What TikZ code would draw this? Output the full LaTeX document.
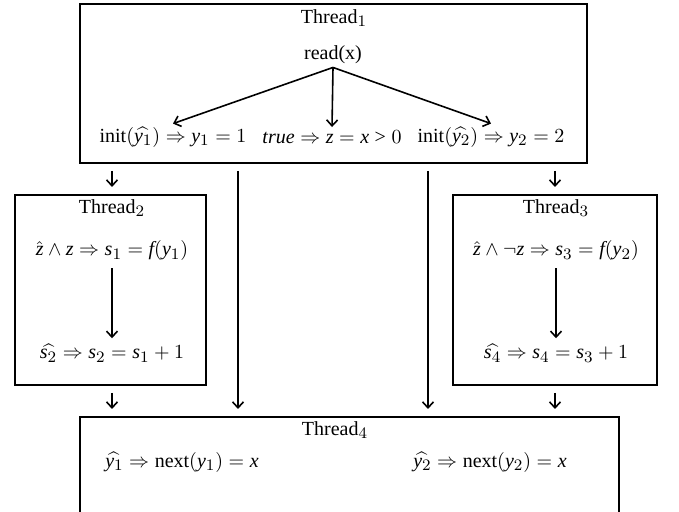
\documentclass[tikz,border=0pt]{standalone}
\usepackage{fontspec}
\setmainfont{Liberation Serif}
\usepackage[italic]{mathastext}
\usetikzlibrary{arrows.meta}
\tikzset{
  box/.style={draw, line width=1pt, inner sep=0pt},
  lbl/.style={inner sep=1.5pt},
  arr/.style={line width=0.8pt, -{Straight Barb[length=3pt,width=5.5pt,line width=0.8pt]}},
}
\begin{document}
\begin{tikzpicture}[x=0.5pt,y=-0.5pt,font=\fontsize{10}{12}\selectfont]
\useasboundingbox (0,0) rectangle (679,512);
\clip (0,0) rectangle (679,512);
% boxes
\node[box, minimum width=253.5pt, minimum height=79.5pt] (t1) at (333.5,83.5) {};
\node[box, minimum width=95.5pt, minimum height=95pt] (t2) at (110.5,290) {};
\node[box, minimum width=102pt, minimum height=95pt] (t3) at (555,290) {};
\node[box, minimum width=269.5pt, minimum height=75pt] (t4) at (349.5,492) {};
% Thread 1
\node[lbl] (h1) at (334,18) {Thread$_1$};
\node[lbl] (rd) at (333,55) {read(x)};
\node[lbl] (i1) at (173,137) {$\mathrm{init}(\widehat{y_1}) \Rightarrow y_1 = 1$};
\node[lbl] (tz) at (332,137) {$\mathit{true} \Rightarrow z = x > 0$};
\node[lbl] (i2) at (491,137) {$\mathrm{init}(\widehat{y_2}) \Rightarrow y_2 = 2$};
\draw[arr] (rd.south) -- (i1.north);
\draw[arr] (rd.south) -- (tz.north);
\draw[arr] (rd.south) -- (i2.north);
% Thread 2
\node[lbl] (h2) at (112,208) {Thread$_2$};
\node[lbl] (a2) at (112,251) {$\hat{z} \wedge z \Rightarrow s_1 = f(y_1)$};
\node[lbl] (b2) at (112,353) {$\widehat{s_2} \Rightarrow s_2 = s_1 + 1$};
\draw[arr, shorten <=2pt, shorten >=1pt] (a2.south) -- (b2.north);
% Thread 3
\node[lbl] (h3) at (556,208) {Thread$_3$};
\node[lbl] (a3) at (556,251) {$\hat{z} \wedge \neg z \Rightarrow s_3 = f(y_2)$};
\node[lbl] (b3) at (556,353) {$\widehat{s_4} \Rightarrow s_4 = s_3 + 1$};
\draw[arr, shorten <=2pt, shorten >=1pt] (a3.south) -- (b3.north);
% Thread 4
\node[lbl] (h4) at (335,430) {Thread$_4$};
\node[lbl] (n1) at (182,462) {$\widehat{y_1} \Rightarrow \mathrm{next}(y_1) = x$};
\node[lbl] (n2) at (490,462) {$\widehat{y_2} \Rightarrow \mathrm{next}(y_2) = x$};
% connectors between threads
\coordinate (c1) at (112,0);
\coordinate (c2) at (238,0);
\coordinate (c3) at (428,0);
\coordinate (c4) at (555,0);
\draw[arr, shorten <=3.5pt, shorten >=3.5pt] (c1 |- t1.south) -- (c1 |- t2.north);
\draw[arr, shorten <=3.5pt, shorten >=3.5pt] (c4 |- t1.south) -- (c4 |- t3.north);
\draw[arr, shorten <=3.5pt, shorten >=3.5pt] (c2 |- t1.south) -- (c2 |- t4.north);
\draw[arr, shorten <=3.5pt, shorten >=3.5pt] (c3 |- t1.south) -- (c3 |- t4.north);
\draw[arr, shorten <=3.5pt, shorten >=3.5pt] (c1 |- t2.south) -- (c1 |- t4.north);
\draw[arr, shorten <=3.5pt, shorten >=3.5pt] (c4 |- t3.south) -- (c4 |- t4.north);
\end{tikzpicture}
\end{document}
